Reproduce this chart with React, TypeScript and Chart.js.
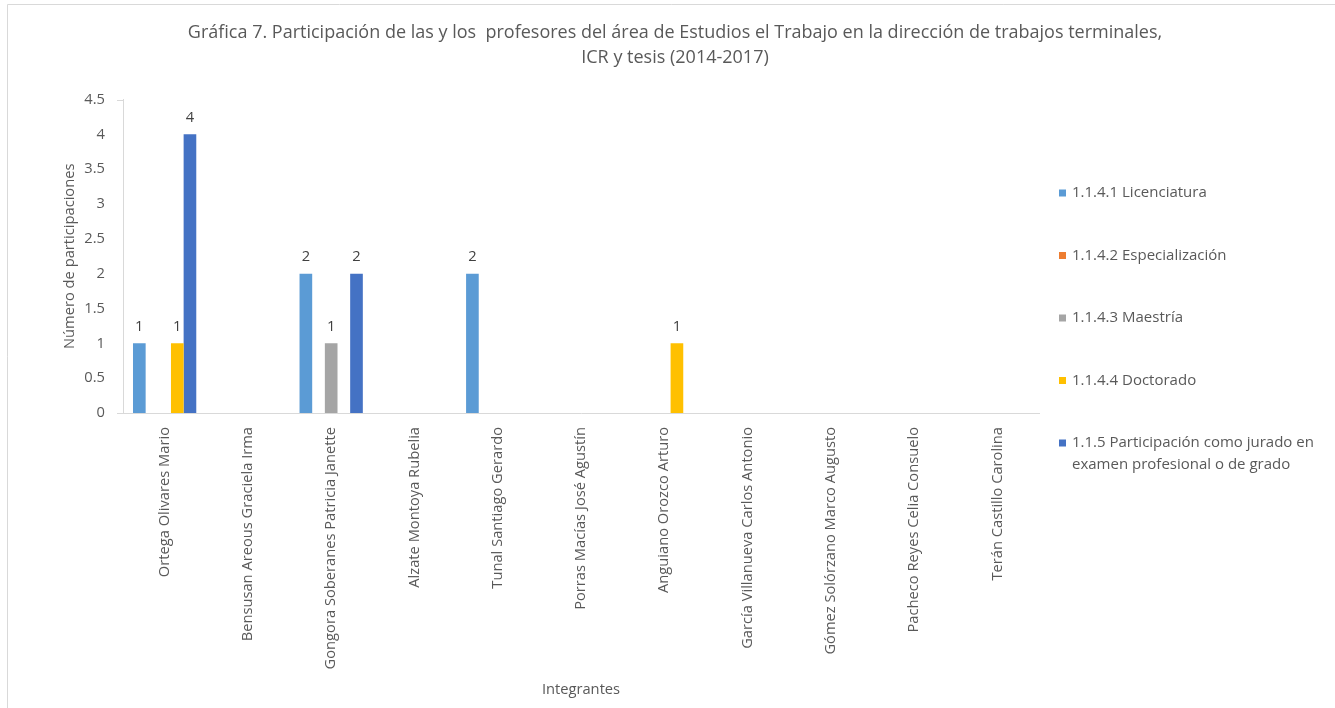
import React, { useEffect, useRef } from "react";
import { Chart, registerables } from "chart.js";

Chart.register(...registerables);

const categories = [
  "Ortega Olivares Mario",
  "Bensusan Areous Graciela Irma",
  "Gongora Soberanes Patricia Janette",
  "Alzate Montoya Rubelia",
  "Tunal Santiago Gerardo",
  "Porras Macías José Agustín",
  "Anguiano Orozco Arturo",
  "García Villanueva Carlos Antonio",
  "Gómez Solórzano Marco Augusto",
  "Pacheco Reyes Celia Consuelo",
  "Terán Castillo Carolina",
];

const seriesNames = [
  "1.1.4.1 Licenciatura",
  "1.1.4.2 Especialización",
  "1.1.4.3 Maestría",
  "1.1.4.4 Doctorado",
  "1.1.5 Participación como jurado en examen profesional o de grado",
];

const licenciatura = [1, 0, 2, 0, 2, 0, 0, 0, 0, 0, 0];
const especializacion = [0, 0, 0, 0, 0, 0, 0, 0, 0, 0, 0];
const maestria = [0, 0, 1, 0, 0, 0, 0, 0, 0, 0, 0];
const doctorado = [1, 0, 0, 0, 0, 0, 1, 0, 0, 0, 0];
const jurado = [4, 0, 2, 0, 0, 0, 0, 0, 0, 0, 0];

const seriesColors = ["#5B9BD5", "#ED7D31", "#A5A5A5", "#FFC000", "#4472C4"];

const titleLines = [
  "Gráfica 7. Participación de las y los  profesores del área de Estudios el Trabajo en la dirección de trabajos terminales,",
  "ICR y tesis (2014-2017)",
];

const FONT = "'Open Sans', sans-serif";
const TEXT = "#595959";
const FS = 14.7;

function wrap(ctx: CanvasRenderingContext2D, text: string, maxW: number): string[] {
  const words = text.split(" ");
  const lines: string[] = [];
  let cur = "";
  for (const w of words) {
    const t = cur ? cur + " " + w : w;
    if (ctx.measureText(t).width > maxW && cur) {
      lines.push(cur);
      cur = w;
    } else cur = t;
  }
  if (cur) lines.push(cur);
  return lines;
}

const decorPlugin = {
  id: "decor",
  beforeDraw(chart: any) {
    const ctx = chart.ctx as CanvasRenderingContext2D;
    ctx.save();
    ctx.fillStyle = "#ffffff";
    ctx.fillRect(0, 0, chart.width, chart.height);
    ctx.strokeStyle = "#d9d9d9";
    ctx.lineWidth = 1;
    ctx.beginPath();
    ctx.moveTo(7.5, chart.height);
    ctx.lineTo(7.5, 4.5);
    ctx.lineTo(chart.width, 4.5);
    ctx.stroke();
    // small outside ticks at axis ends
    const a = chart.chartArea;
    ctx.beginPath();
    ctx.moveTo(a.left - 6, Math.round(a.top) + 0.5);
    ctx.lineTo(a.left, Math.round(a.top) + 0.5);
    ctx.moveTo(a.left - 6, Math.round(a.bottom) + 0.5);
    ctx.lineTo(a.left, Math.round(a.bottom) + 0.5);
    ctx.stroke();
    ctx.restore();
  },
  afterDraw(chart: any) {
    const ctx = chart.ctx as CanvasRenderingContext2D;
    ctx.save();
    // title
    ctx.fillStyle = TEXT;
    ctx.font = `18px ${FONT}`;
    ctx.textAlign = "center";
    ctx.textBaseline = "middle";
    titleLines.forEach((l, i) => ctx.fillText(l, 675, 33 + i * 25));
    // legend
    ctx.font = `15px ${FONT}`;
    ctx.textAlign = "left";
    chart.data.datasets.forEach((ds: any, i: number) => {
      const y = 193 + i * 62.5;
      ctx.fillStyle = ds.backgroundColor;
      ctx.fillRect(1059, y - 3.5, 7, 7);
      ctx.fillStyle = TEXT;
      const lines = wrap(ctx, ds.label, 258);
      lines.forEach((ln, j) => ctx.fillText(ln, 1072, y + j * 22));
    });
    ctx.restore();
  },
  afterDatasetsDraw(chart: any) {
    const ctx = chart.ctx as CanvasRenderingContext2D;
    ctx.save();
    ctx.fillStyle = "#404040";
    ctx.font = `${FS}px ${FONT}`;
    ctx.textAlign = "center";
    ctx.textBaseline = "middle";
    chart.data.datasets.forEach((ds: any, i: number) => {
      const meta = chart.getDatasetMeta(i);
      meta.data.forEach((el: any, j: number) => {
        const v = ds.data[j];
        if (v > 0) ctx.fillText(String(v), el.x, el.y - 17);
      });
    });
    ctx.restore();
  },
};

export default function App() {
  const ref = useRef<HTMLCanvasElement>(null);
  useEffect(() => {
    const allSeries = [licenciatura, especializacion, maestria, doctorado, jurado];
    const chart = new Chart(ref.current!, {
      type: "bar",
      data: {
        labels: categories,
        datasets: allSeries.map((d, i) => ({
          label: seriesNames[i],
          data: d,
          backgroundColor: seriesColors[i],
          borderWidth: 0,
          categoryPercentage: 0.76,
          barPercentage: 1,
        })),
      },
      options: {
        animation: false,
        responsive: false,
        maintainAspectRatio: false,
        layout: { padding: { top: 99.5, left: 0, right: 296, bottom: 0 } },
        plugins: {
          legend: { display: false },
          title: { display: false },
          tooltip: { enabled: false },
        },
        scales: {
          x: {
            grid: { display: false, drawTicks: false },
            border: { display: true, color: "#d9d9d9" },
            ticks: {
              color: TEXT,
              font: { family: FONT, size: FS },
              maxRotation: 90,
              minRotation: 90,
              padding: 14,
              autoSkip: false,
            },
            title: {
              display: true,
              text: "Integrantes",
              color: TEXT,
              font: { family: FONT, size: FS },
              padding: { top: 0, bottom: 9 },
            },
            afterFit: (s: any) => {
              s.height = 295;
            },
          },
          y: {
            min: 0,
            max: 4.5,
            grid: { display: false, drawTicks: false },
            border: { display: true, color: "#d9d9d9" },
            ticks: {
              stepSize: 0.5,
              color: TEXT,
              font: { family: FONT, size: FS },
              padding: 18,
              callback: (v: any) => String(Number(v)),
            },
            title: {
              display: true,
              text: "Número de participaciones",
              color: TEXT,
              font: { family: FONT, size: FS },
              padding: { top: 61, bottom: 0 },
            },
            afterFit: (s: any) => {
              s.width = 123;
            },
          },
        },
      },
      plugins: [decorPlugin],
    });
    return () => chart.destroy();
  }, []);
  return (
    <div style={{ position: "fixed", left: 0, top: 0, width: 1335, height: 708 }}>
      <canvas ref={ref} width={1335} height={708} style={{ display: "block" }} />
    </div>
  );
}
